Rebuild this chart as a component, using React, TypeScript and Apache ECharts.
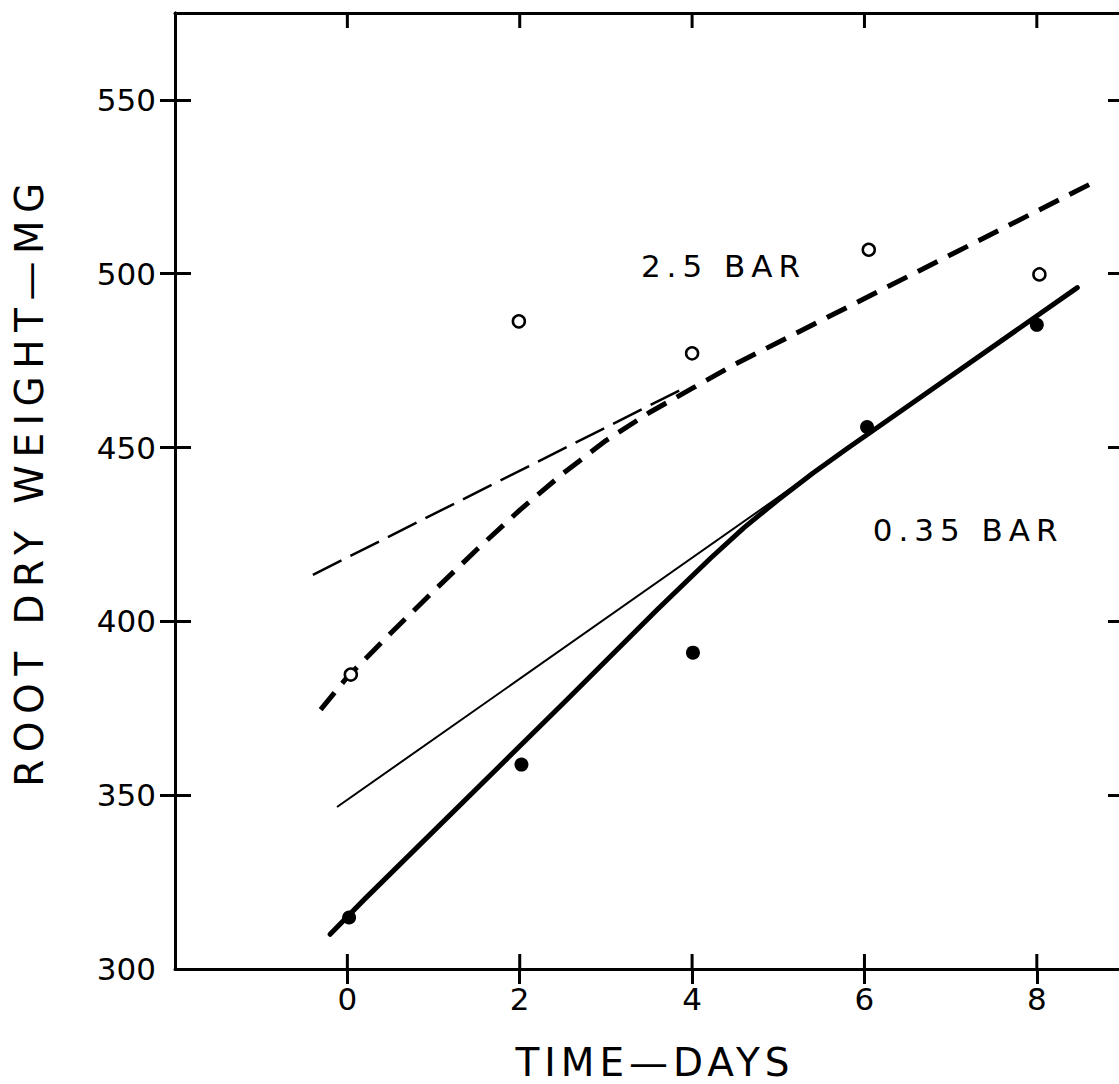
import React, { useEffect, useRef } from 'react';
import * as echarts from 'echarts';

// ---- data ----
const openDays = [0.04, 1.99, 4.0, 6.05, 8.03];
const openWeights = [384.7, 486.3, 477.1, 506.9, 499.8];
const filledDays = [0.02, 2.02, 4.01, 6.03, 8.0];
const filledWeights = [314.8, 358.8, 391.0, 455.9, 485.3];

const highCurveDays = [-0.31, 0, 0.5, 1.0, 1.5, 2.0, 2.5, 3.0, 3.5, 4.0, 4.5, 8.62];
const highCurveWeights = [374.6, 384.0, 396.5, 408.7, 420.6, 432.0, 442.5, 452.0, 460.0, 467.0, 474.0, 525.8];
const highLineDays = [-0.4, 3.9];
const highLineWeights = [413.4, 467.0];
const lowCurveDays = [-0.2, 0.2, 2.55, 3.6, 4.22, 4.6, 5.0, 5.4, 5.8, 6.1, 8.47];
const lowCurveWeights = [310.0, 320.1, 377.5, 403.5, 418.3, 426.9, 435.0, 442.6, 449.7, 454.9, 496.0];
const lowLineDays = [-0.12, 5.3];
const lowLineWeights = [346.6, 440.9];

const xTickValues = [0, 2, 4, 6, 8];
const yTickValues = [350, 400, 450, 500, 550];
const yLabelValues = [300, 350, 400, 450, 500, 550];
const xMin = -2;
const xMax = 9;
const yMin = 300;
const yMax = 575;

const annotationTexts = ['2.5 BAR', '0.35 BAR'];
const annotationDays = [3.4, 6.09];
const annotationWeights = [502.1, 426.3];

const xTitle = 'TIME—DAYS';
const yTitle = 'ROOT DRY WEIGHT—MG';

const FONT = '"DejaVu Sans", "Liberation Sans", sans-serif';
const INK = '#000';
const TICK_LEN = 15;

const zip = (xs: number[], ys: number[]) => xs.map((x, i) => [x, ys[i]]);

const letterSpacing: Record<string, number> = {
  '2.5 BAR': 6,
  '0.35 BAR': 6,
  [xTitle]: 5,
  [yTitle]: 7.5,
};

function App() {
  const ref = useRef<HTMLDivElement>(null);

  useEffect(() => {
    if (!ref.current) return;
    const chart = echarts.init(ref.current, null, { renderer: 'svg' });

    const lineAxis = { show: true, onZero: false, lineStyle: { color: INK, width: 3 } };
    const tickStyle = { color: INK, width: 3 };

    const xBase = {
      type: 'value' as const,
      min: xMin,
      max: xMax,
      interval: 2,
      splitLine: { show: false },
      axisLine: lineAxis,
    };
    const yBase = {
      type: 'value' as const,
      min: yMin,
      max: yMax,
      interval: 25,
      splitLine: { show: false },
      axisLine: lineAxis,
    };

    const tickMarkSeries = (edgeValue: number, offsetY: number, name: string) => ({
      name,
      type: 'scatter',
      data: xTickValues.map((v) => [v, edgeValue]),
      symbol: 'rect',
      symbolSize: [3, TICK_LEN],
      symbolOffset: [0, offsetY],
      clip: false,
      silent: true,
      z: 4,
      itemStyle: { color: INK, opacity: 1 },
    });

    const option: any = {
      animation: false,
      backgroundColor: '#fff',
      grid: { left: 175, right: 17, top: 13, bottom: 115, containLabel: false, outerBoundsMode: 'none' },
      xAxis: [
        {
          ...xBase,
          position: 'bottom',
          axisTick: { show: true, inside: false, length: TICK_LEN, lineStyle: tickStyle, customValues: xTickValues },
          axisLabel: {
            show: true,
            customValues: xTickValues,
            margin: 14,
            fontSize: 31,
            fontFamily: FONT,
            color: INK,
          },
        },
        {
          ...xBase,
          position: 'top',
          axisTick: { show: false },
          axisLabel: { show: false },
        },
      ],
      yAxis: [
        {
          ...yBase,
          position: 'left',
          axisTick: { show: true, inside: false, length: TICK_LEN, lineStyle: tickStyle, customValues: yTickValues },
          axisLabel: {
            show: true,
            customValues: yLabelValues,
            margin: 19,
            fontSize: 31,
            fontFamily: FONT,
            color: INK,
          },
        },
        {
          ...yBase,
          position: 'left',
          axisTick: { show: true, inside: true, length: 16, lineStyle: tickStyle, customValues: yTickValues },
          axisLabel: { show: false },
        },
        {
          ...yBase,
          position: 'right',
          axisTick: { show: true, inside: true, length: TICK_LEN, lineStyle: tickStyle, customValues: yTickValues },
          axisLabel: { show: false },
        },
      ],
      graphic: [
        {
          type: 'text',
          x: 29,
          y: 481,
          rotation: Math.PI / 2,
          style: {
            text: yTitle,
            fontSize: 39,
            fontFamily: FONT,
            fill: INK,
            align: 'center',
            verticalAlign: 'middle',
          },
        },
        {
          type: 'text',
          x: 655,
          y: 1062,
          style: {
            text: xTitle,
            fontSize: 39,
            fontFamily: FONT,
            fill: INK,
            align: 'center',
            verticalAlign: 'middle',
          },
        },
      ],
      series: [
        tickMarkSeries(yMin, -TICK_LEN / 2, 'bottom inner ticks'),
        tickMarkSeries(yMax, TICK_LEN / 2, 'top inner ticks'),
        {
          name: '2.5 bar fit',
          type: 'line',
          data: zip(highLineDays, highLineWeights),
          showSymbol: false,
          symbol: 'none',
          silent: true,
          z: 2,
          lineStyle: { color: INK, width: 2.5, type: [32, 10] },
        },
        {
          name: '2.5 bar curve',
          type: 'line',
          data: zip(highCurveDays, highCurveWeights),
          showSymbol: false,
          symbol: 'none',
          silent: true,
          z: 2,
          lineStyle: { color: INK, width: 5, type: [22, 12] },
        },
        {
          name: '0.35 bar fit',
          type: 'line',
          data: zip(lowLineDays, lowLineWeights),
          showSymbol: false,
          symbol: 'none',
          silent: true,
          z: 2,
          lineStyle: { color: INK, width: 2 },
        },
        {
          name: '0.35 bar curve',
          type: 'line',
          data: zip(lowCurveDays, lowCurveWeights),
          showSymbol: false,
          symbol: 'none',
          silent: true,
          z: 2,
          lineStyle: { color: INK, width: 5, cap: 'round', join: 'round' },
        },
        {
          name: '2.5 BAR',
          type: 'scatter',
          data: zip(openDays, openWeights),
          symbol: 'circle',
          symbolSize: 12,
          silent: true,
          z: 5,
          itemStyle: { color: '#fff', borderColor: INK, borderWidth: 2.5, opacity: 1 },
        },
        {
          name: '0.35 BAR',
          type: 'scatter',
          data: zip(filledDays, filledWeights),
          symbol: 'circle',
          symbolSize: 14,
          silent: true,
          z: 5,
          itemStyle: { color: INK, opacity: 1 },
        },
        {
          name: 'labels',
          type: 'scatter',
          data: annotationTexts.map((t, i) => ({
            value: [annotationDays[i], annotationWeights[i]],
            label: { formatter: t },
          })),
          symbolSize: 1,
          silent: true,
          z: 6,
          itemStyle: { color: 'rgba(0,0,0,0)', opacity: 1 },
          label: {
            show: true,
            position: 'right',
            distance: 0,
            fontSize: 31,
            fontFamily: FONT,
            color: INK,
            opacity: 1,
          },
        },
      ],
    };

    chart.setOption(option);

    const applySpacing = () => {
      if (!ref.current) return;
      ref.current.querySelectorAll('text').forEach((t) => {
        const s = letterSpacing[(t.textContent || '').trim()];
        if (s) t.setAttribute('letter-spacing', String(s));
      });
    };
    applySpacing();
    chart.on('finished', applySpacing);
    const timer = setTimeout(applySpacing, 50);

    return () => {
      clearTimeout(timer);
      chart.dispose();
    };
  }, []);

  return (
    <div
      ref={ref}
      style={{ position: 'fixed', left: 0, top: 0, width: 1140, height: 1084, background: '#fff' }}
    />
  );
}

export default App;
